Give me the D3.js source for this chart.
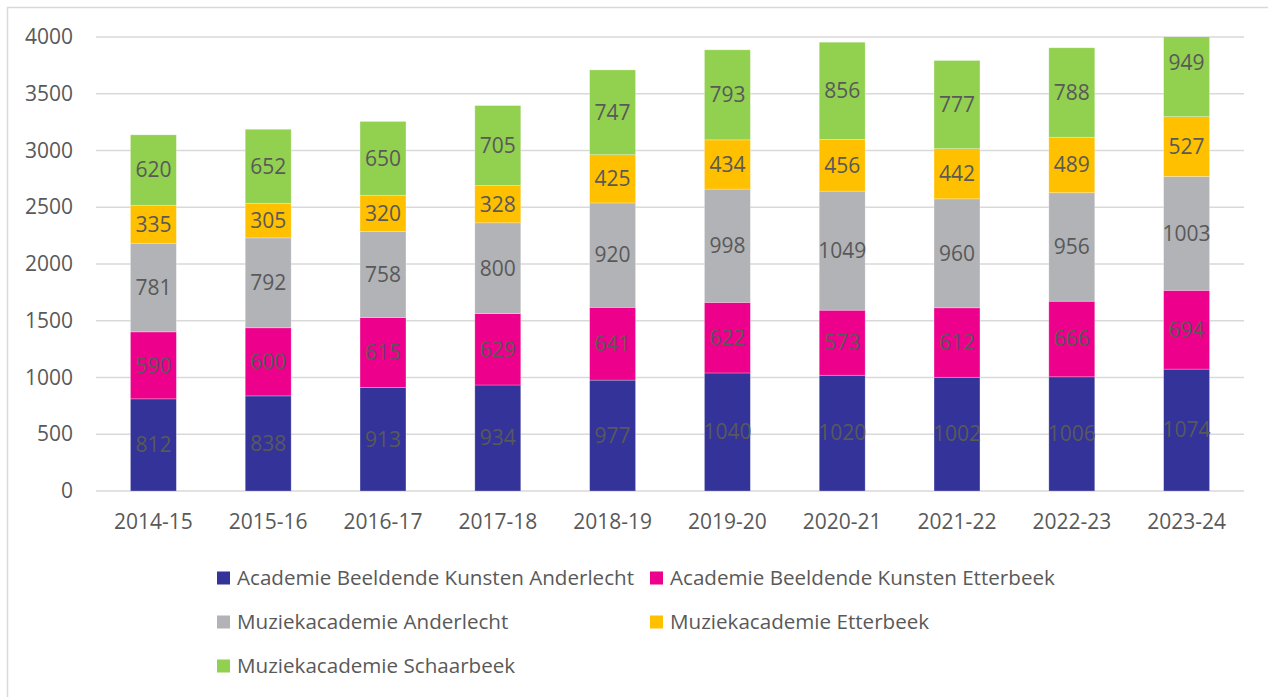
<!DOCTYPE html>
<html><head><meta charset="utf-8">
<script src="https://cdn.jsdelivr.net/npm/d3@7"></script>
<style>html,body{margin:0;padding:0;background:#fff}svg{display:block}text{font-family:"Open Sans",sans-serif}</style>
</head><body><svg id="c" width="1268" height="697"></svg>
<script>
const categories = ["2014-15","2015-16","2016-17","2017-18","2018-19","2019-20","2020-21","2021-22","2022-23","2023-24"];
const seriesNames = ["Academie Beeldende Kunsten Anderlecht","Academie Beeldende Kunsten Etterbeek","Muziekacademie Anderlecht","Muziekacademie Etterbeek","Muziekacademie Schaarbeek"];
const abkAnderlecht = [812,838,913,934,977,1040,1020,1002,1006,1074];
const abkEtterbeek  = [590,600,615,629,641,622,573,612,666,694];
const maAnderlecht  = [781,792,758,800,920,998,1049,960,956,1003];
const maEtterbeek   = [335,305,320,328,425,434,456,442,489,527];
const maSchaarbeek  = [620,652,650,705,747,793,856,777,788,949];
const yTicks = [0,500,1000,1500,2000,2500,3000,3500,4000];
const colors = ["#333399","#EC008C","#B1B3B6","#FFC000","#92D050"];

const seriesValues = [abkAnderlecht, abkEtterbeek, maAnderlecht, maEtterbeek, maSchaarbeek];
const rows = categories.map((c,i)=>{const o={cat:c}; seriesNames.forEach((s,j)=>o[s]=seriesValues[j][i]); return o;});
const stacked = d3.stack().keys(seriesNames)(rows);

const svg = d3.select("#c");
svg.append("rect").attr("x",7.5).attr("y",7.5).attr("width",1300).attr("height",720)
  .attr("fill","none").attr("stroke","#d9d9d9").attr("stroke-width",1.5);

const x = d3.scaleBand().domain(categories).range([96,1244]).paddingInner(0.6).paddingOuter(0.3);
const y = d3.scaleLinear().domain([0,4000]).range([491,37]);

svg.append("g").selectAll("line").data(yTicks).join("line")
  .attr("x1",96).attr("x2",1244).attr("y1",d=>y(d)).attr("y2",d=>y(d))
  .attr("stroke","#d9d9d9").attr("stroke-width",1.5);

const yAxis = d3.axisLeft(y).tickValues(yTicks).tickSize(0).tickPadding(0).tickFormat(d3.format("d"));
const gy = svg.append("g").attr("transform","translate(73,0)").call(yAxis);
gy.select(".domain").remove();
gy.selectAll("text").attr("fill","#595959").style("font-size","21px").style("font-family","'Open Sans',sans-serif");

const xAxis = d3.axisBottom(x).tickSize(0).tickPadding(0);
const gx = svg.append("g").attr("transform","translate(0,514)").call(xAxis);
gx.select(".domain").remove();
gx.selectAll("text").attr("fill","#595959").style("font-size","21px").style("font-family","'Open Sans',sans-serif");

svg.append("clipPath").attr("id","plotclip").append("rect")
  .attr("x",0).attr("y",y(4000)).attr("width",1268).attr("height",y(0)-y(4000));
const bars = svg.append("g").attr("clip-path","url(#plotclip)");
stacked.forEach((s,j)=>{
  bars.append("g").attr("fill",colors[j]).selectAll("rect").data(s).join("rect")
    .attr("x",d=>x(d.data.cat)).attr("width",x.bandwidth())
    .attr("y",d=>y(d[1])).attr("height",d=>y(d[0])-y(d[1]))
    .attr("stroke","rgba(255,255,255,0.35)").attr("stroke-width",0.75);
});
stacked.forEach((s,j)=>{
  svg.append("g").selectAll("text").data(s).join("text")
    .attr("x",d=>x(d.data.cat)+x.bandwidth()/2)
    .attr("y",d=>y((d[0]+d[1])/2))
    .attr("dy","0.35em").attr("text-anchor","middle")
    .attr("fill","#595959").style("font-size","21px")
    .text(d=>d[1]-d[0]);
});

const legendPos = [[217,578],[650,578],[217,622],[650,622],[217,666]];
const lg = svg.append("g");
seriesNames.forEach((n,j)=>{
  const [lx,ly]=legendPos[j];
  lg.append("rect").attr("x",lx).attr("y",ly-6.5).attr("width",13).attr("height",13).attr("fill",colors[j]);
  lg.append("text").attr("x",lx+20).attr("y",ly).attr("dy","0.35em").attr("fill","#595959")
    .style("font-size","20.6px").text(n);
});
</script></body></html>
